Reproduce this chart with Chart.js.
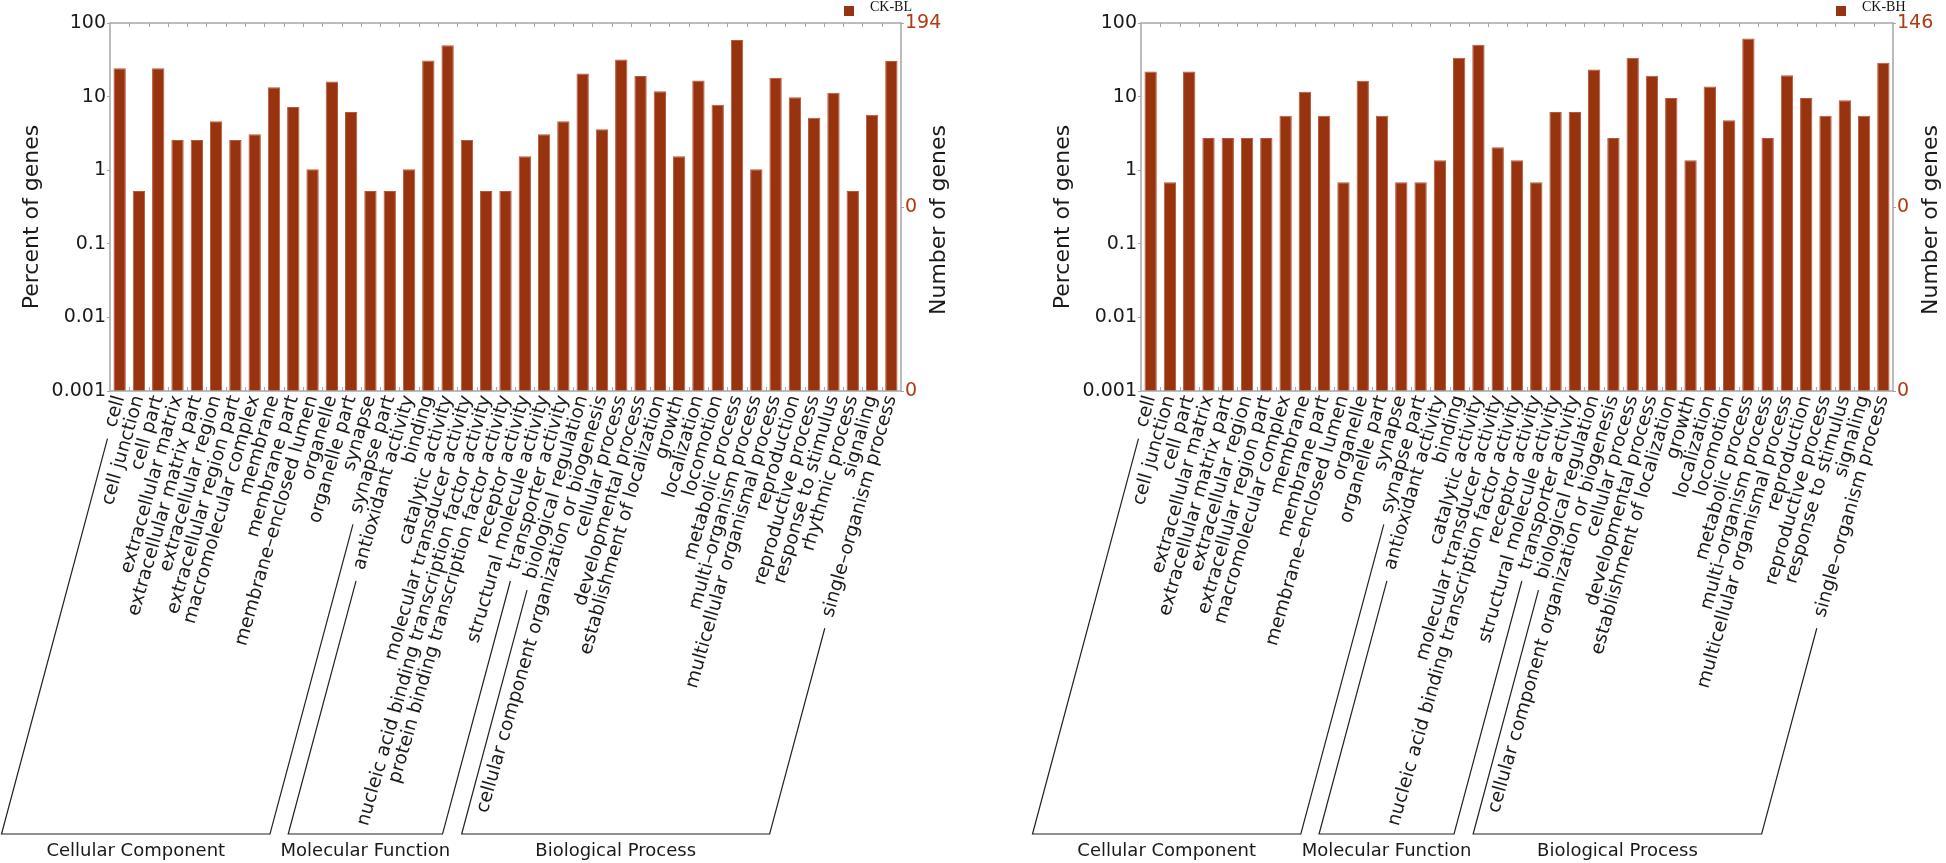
<!DOCTYPE html>
<html>
<head>
<meta charset="utf-8">
<script src="https://cdn.jsdelivr.net/npm/chart.js@4.4.1/dist/chart.umd.min.js"></script>
<style>
  html, body { margin: 0; background: #fff; }
  #wrap { position: relative; width: 1946px; height: 863px; }
  .box { position: absolute; top: 0; height: 863px; width: 973px; }
</style>
</head>
<body>
<div id="wrap">
  <div class="box" style="left:0"><canvas id="chart-bl" width="973" height="863"></canvas></div>
  <div class="box" style="left:973px"><canvas id="chart-bh" width="973" height="863"></canvas></div>
</div>
<script>
// GO classification, CK-BL (194 genes) and CK-BH (146 genes)
const categoriesBL = [
  'cell', 'cell junction', 'cell part', 'extracellular matrix', 'extracellular matrix part',
  'extracellular region', 'extracellular region part', 'macromolecular complex', 'membrane',
  'membrane part', 'membrane\u2013enclosed lumen', 'organelle', 'organelle part', 'synapse', 'synapse part',
  'antioxidant activity', 'binding', 'catalytic activity', 'molecular transducer activity',
  'nucleic acid binding transcription factor activity', 'protein binding transcription factor activity',
  'receptor activity', 'structural molecule activity', 'transporter activity',
  'biological regulation', 'cellular component organization or biogenesis', 'cellular process',
  'developmental process', 'establishment of localization', 'growth', 'localization', 'locomotion',
  'metabolic process', 'multi\u2013organism process', 'multicellular organismal process', 'reproduction',
  'reproductive process', 'response to stimulus', 'rhythmic process', 'signaling', 'single\u2013organism process'
];
const percentBL = [
  24.2, 0.52, 24.2, 2.58, 2.58, 4.64, 2.58, 3.09, 13.4, 7.2, 1.03, 15.98, 6.19, 0.52, 0.52,
  1.03, 30.9, 50.0, 2.58, 0.52, 0.52, 1.55, 3.09, 4.64,
  20.6, 3.6, 31.96, 19.07, 11.86, 1.55, 16.5, 7.73, 58.76, 1.03, 18.0, 9.79, 5.15, 11.3, 0.52, 5.67, 30.4
];
const groupSizesBL = [15, 9, 17];

const categoriesBH = [
  'cell', 'cell junction', 'cell part', 'extracellular matrix', 'extracellular matrix part',
  'extracellular region', 'extracellular region part', 'macromolecular complex', 'membrane',
  'membrane part', 'membrane\u2013enclosed lumen', 'organelle', 'organelle part', 'synapse', 'synapse part',
  'antioxidant activity', 'binding', 'catalytic activity', 'molecular transducer activity',
  'nucleic acid binding transcription factor activity', 'receptor activity',
  'structural molecule activity', 'transporter activity',
  'biological regulation', 'cellular component organization or biogenesis', 'cellular process',
  'developmental process', 'establishment of localization', 'growth', 'localization', 'locomotion',
  'metabolic process', 'multi\u2013organism process', 'multicellular organismal process', 'reproduction',
  'reproductive process', 'response to stimulus', 'signaling', 'single\u2013organism process'
];
const percentBH = [
  21.9, 0.685, 21.9, 2.74, 2.74, 2.74, 2.74, 5.48, 11.64, 5.48, 0.685, 16.4, 5.48, 0.685, 0.685,
  1.37, 33.6, 50.7, 2.05, 1.37, 0.685, 6.16, 6.16,
  23.3, 2.74, 33.6, 19.2, 9.59, 1.37, 13.7, 4.79, 61.6, 2.74, 19.5, 9.59, 5.48, 8.9, 5.48, 28.8
];
const groupSizesBH = [15, 8, 16];

const groupNames = ['Cellular Component', 'Molecular Function', 'Biological Process'];
const percentTicks = [100, 10, 1, 0.1, 0.01, 0.001];
const countTicksBL = ['0', '0', '194'];
const countTicksBH = ['0', '0', '146'];

const BAR = '#98330f';
const AXIS = '#a6a6a6';
const ROT = 74;          // label rotation, degrees
const BRACKET_ROT = 75;  // slant of the group brackets
const LABEL_PAD = 2;
const LABEL_OFFSET = 0;
const TICK_FONT = 18.7;

Chart.defaults.font.family = "'DejaVu Sans', sans-serif";
Chart.defaults.color = '#1a1a1a';

// frame, inner ticks, group brackets, titles, legend
const goDecor = {
  id: 'goDecor',
  afterDraw(chart, args, o) {
    const { ctx, chartArea: a, scales: { x } } = chart;
    const labels = x.getLabels();
    const n = labels.length;
    ctx.save();

    ctx.strokeStyle = AXIS;
    ctx.lineWidth = 1.5;
    ctx.strokeRect(a.left, a.top, a.right - a.left, a.bottom - a.top);
    ctx.lineWidth = 1;
    ctx.beginPath();
    for (let i = 1; i < n; i++) {
      const px = Math.round((x.getPixelForValue(i - 1) + x.getPixelForValue(i)) / 2) + 0.5;
      ctx.moveTo(px, a.top); ctx.lineTo(px, a.top + 4);
      ctx.moveTo(px, a.bottom); ctx.lineTo(px, a.bottom - 4);
    }
    ctx.stroke();

    // brackets under each GO group, starting just past the label ends
    const th = ROT * Math.PI / 180, ph = BRACKET_ROT * Math.PI / 180;
    const lh = TICK_FONT * 1.2;
    ctx.font = TICK_FONT + "px 'DejaVu Sans', sans-serif";
    const startOf = i => {
      const w = ctx.measureText(labels[i]).width + 12;
      const cx = x.getPixelForValue(i) + LABEL_OFFSET;
      const cy = x.top + LABEL_PAD + lh / 2 * Math.cos(th);
      return [cx - w * Math.cos(th), cy + w * Math.sin(th)];
    };
    const baseY = o.baseY;
    const down = p => p[0] - (baseY - p[1]) / Math.tan(ph);
    ctx.strokeStyle = '#222';
    ctx.lineWidth = 1.2;
    ctx.fillStyle = '#1a1a1a';
    ctx.textAlign = 'center';
    ctx.textBaseline = 'middle';
    let first = 0;
    o.groups.forEach((cnt, g) => {
      const last = first + cnt - 1;
      const s1 = startOf(first), s2 = startOf(last);
      const b1 = down(s1), b2 = down(s2);
      ctx.beginPath();
      ctx.moveTo(s1[0], s1[1]); ctx.lineTo(b1, baseY);
      ctx.lineTo(b2, baseY); ctx.lineTo(s2[0], s2[1]);
      ctx.stroke();
      ctx.font = "18px 'DejaVu Sans', sans-serif";
      ctx.fillText(groupNames[g], (b1 + b2) / 2, baseY + 17);
      ctx.font = TICK_FONT + "px 'DejaVu Sans', sans-serif";
      first = last + 1;
    });

    // axis titles, both read bottom to top
    ctx.font = "22px 'DejaVu Sans', sans-serif";
    [['Percent of genes', a.left - 78, 217], ['Number of genes', a.right + 38, 220]].forEach(([t, tx, ty]) => {
      ctx.save();
      ctx.translate(tx, ty);
      ctx.rotate(-Math.PI / 2);
      ctx.fillText(t, 0, 0);
      ctx.restore();
    });

    // legend
    ctx.fillStyle = BAR;
    ctx.fillRect(a.right - 57, 6, 10, 10);
    ctx.fillStyle = '#111';
    ctx.textAlign = 'left';
    ctx.font = "14px 'Liberation Serif', serif";
    ctx.fillText(o.legend, a.right - 31, 7);
    ctx.restore();
  }
};

function goChart(id, cats, values, groups, countTicks, name, leftW, rightW) {
  return new Chart(document.getElementById(id), {
    type: 'bar',
    data: {
      labels: cats,
      datasets: [{
        label: name, data: values, backgroundColor: BAR,
        borderColor: '#b8583a', borderWidth: 1,
        barPercentage: 0.64, categoryPercentage: 1
      }]
    },
    options: {
      responsive: false, animation: false,
      layout: { padding: { top: 23, left: 0, right: 0, bottom: 0 } },
      plugins: {
        legend: { display: false }, tooltip: { enabled: false },
        goDecor: { groups: groups, baseY: 834, legend: name }
      },
      scales: {
        x: {
          grid: { display: false, drawTicks: false }, border: { display: false },
          ticks: {
            autoSkip: false, minRotation: ROT, maxRotation: ROT,
            padding: LABEL_PAD, labelOffset: LABEL_OFFSET,
            font: { size: TICK_FONT }, color: '#1a1a1a'
          },
          afterFit: s => { s.height = 863 - 391; }
        },
        y: {
          type: 'logarithmic', min: 0.001, max: 100,
          grid: { drawOnChartArea: false, tickLength: 3, color: AXIS }, border: { display: false },
          ticks: { font: { size: 19 }, color: '#1a1a1a', padding: 1, callback: v => String(v) },
          afterBuildTicks: s => { s.ticks = percentTicks.map(v => ({ value: v })); },
          afterFit: s => { s.width = leftW; }
        },
        y2: {
          type: 'linear', position: 'right', min: 0, max: 2, display: true,
          grid: { drawOnChartArea: false, tickLength: 3, color: AXIS }, border: { display: false },
          ticks: { font: { size: 19 }, color: '#b03a12', padding: 1, callback: (v, i) => countTicks[i] },
          afterBuildTicks: s => { s.ticks = [0, 1, 2].map(v => ({ value: v })); },
          afterFit: s => { s.width = rightW; }
        }
      }
    },
    plugins: [goDecor]
  });
}

goChart('chart-bl', categoriesBL, percentBL, groupSizesBL, countTicksBL, 'CK-BL', 110, 72);
goChart('chart-bh', categoriesBH, percentBH, groupSizesBH, countTicksBH, 'CK-BH', 168, 53);
</script>
</body>
</html>
